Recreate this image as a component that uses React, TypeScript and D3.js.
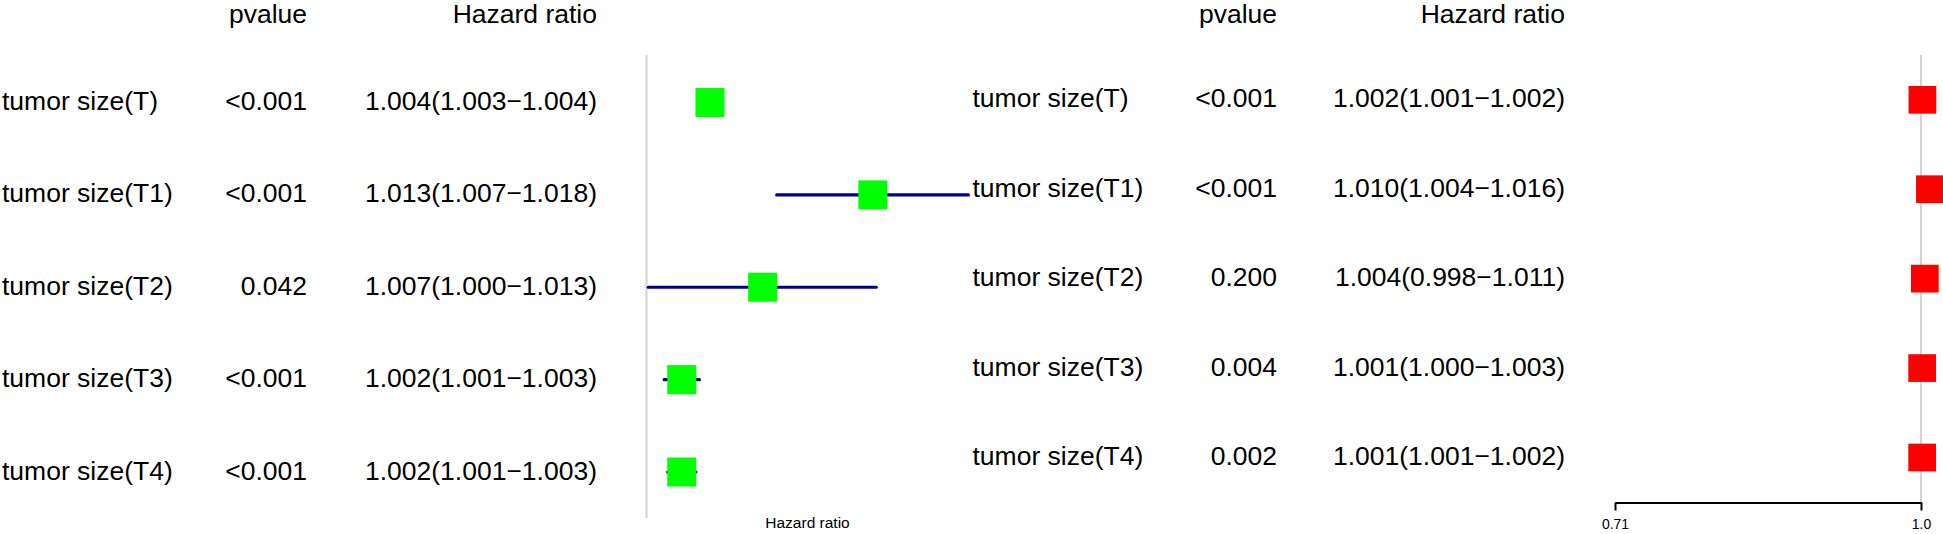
import React, { useEffect, useRef } from 'react';
import * as d3 from 'd3';

// Rows (same for both panels)
const labels = ['tumor size(T)', 'tumor size(T1)', 'tumor size(T2)', 'tumor size(T3)', 'tumor size(T4)'];

// Left forest plot
const leftPvalues = ['<0.001', '<0.001', '0.042', '<0.001', '<0.001'];
const leftHrText = [
  '1.004(1.003\u22121.004)',
  '1.013(1.007\u22121.018)',
  '1.007(1.000\u22121.013)',
  '1.002(1.001\u22121.003)',
  '1.002(1.001\u22121.003)',
];
const leftHr = [1.0036, 1.0129, 1.0066, 1.002, 1.002];
const leftLower = [1.0031, 1.0074, 1.0001, 1.001, 1.0012];
const leftUpper = [1.0041, 1.0184, 1.0131, 1.003, 1.0028];

// Right forest plot
const rightPvalues = ['<0.001', '<0.001', '0.200', '0.004', '0.002'];
const rightHrText = [
  '1.002(1.001\u22121.002)',
  '1.010(1.004\u22121.016)',
  '1.004(0.998\u22121.011)',
  '1.001(1.000\u22121.003)',
  '1.001(1.001\u22121.002)',
];
const rightHr = [1.0016, 1.01, 1.0043, 1.0013, 1.0013];
const rightLower = [1.0012, 1.004, 0.998, 1.0004, 1.0006];
const rightUpper = [1.002, 1.016, 1.011, 1.0027, 1.002];
const rightTicks = [0.71, 1.0];
const rightTickLabels = ['0.71', '1.0'];

const W = 1943;
const H = 534;
const FONT = '"Liberation Sans", Arial, Helvetica, sans-serif';
const TEXT_SIZE = 26.5;

type Panel = {
  x0: number;
  pvalRight: number;
  hrRight: number;
  rowTop: number;
  rowBottom: number;
  x: d3.ScaleLogarithmic<number, number>;
  lineTop: number;
  lineBottom: number;
  box: number;
  color: string;
  pvalues: string[];
  hrText: string[];
  hr: number[];
  lower: number[];
  upper: number[];
};

function drawPanel(svg: d3.Selection<SVGSVGElement, unknown, null, undefined>, p: Panel) {
  const y = d3.scalePoint<string>().domain(labels).range([p.rowTop, p.rowBottom]);
  const g = svg.append('g').style('font-family', FONT).style('font-size', `${TEXT_SIZE}px`);

  // Header
  g.append('text').attr('x', p.pvalRight).attr('y', 23).attr('text-anchor', 'end').text('pvalue');
  g.append('text').attr('x', p.hrRight).attr('y', 23).attr('text-anchor', 'end').text('Hazard ratio');

  const rows = labels.map((l, i) => ({
    label: l,
    pv: p.pvalues[i],
    txt: p.hrText[i],
    hr: p.hr[i],
    lo: p.lower[i],
    hi: p.upper[i],
  }));

  // Table columns
  g.selectAll(null)
    .data(rows)
    .enter()
    .append('text')
    .attr('x', p.x0)
    .attr('y', d => (y(d.label) as number) + 7.5)
    .text(d => d.label);

  g.selectAll(null)
    .data(rows)
    .enter()
    .append('text')
    .attr('x', p.pvalRight)
    .attr('y', d => (y(d.label) as number) + 7.5)
    .attr('text-anchor', 'end')
    .text(d => d.pv);

  g.selectAll(null)
    .data(rows)
    .enter()
    .append('text')
    .attr('x', p.hrRight)
    .attr('y', d => (y(d.label) as number) + 7.5)
    .attr('text-anchor', 'end')
    .text(d => d.txt);

  // Reference line at 1
  svg
    .append('line')
    .attr('x1', p.x(1))
    .attr('x2', p.x(1))
    .attr('y1', p.lineTop)
    .attr('y2', p.lineBottom)
    .attr('stroke', '#d3d3d3')
    .attr('stroke-width', 2);

  // CI lines
  svg
    .selectAll(null)
    .data(rows)
    .enter()
    .append('line')
    .attr('x1', d => p.x(d.lo))
    .attr('x2', d => p.x(d.hi))
    .attr('y1', d => y(d.label) as number)
    .attr('y2', d => y(d.label) as number)
    .attr('stroke', '#00008b')
    .attr('stroke-width', 3.2)
    .attr('stroke-linecap', 'round');

  // Boxes
  svg
    .selectAll(null)
    .data(rows)
    .enter()
    .append('rect')
    .attr('x', d => p.x(d.hr) - p.box / 2)
    .attr('y', d => (y(d.label) as number) - p.box / 2)
    .attr('width', p.box)
    .attr('height', p.box)
    .attr('fill', p.color);

  return y;
}

export default function App() {
  const ref = useRef<SVGSVGElement>(null);

  useEffect(() => {
    const svg = d3.select(ref.current as SVGSVGElement);
    svg.selectAll('*').remove();

    const xLeft = d3.scaleLog().domain([1, 1.0184]).range([646.5, 968.5]);
    drawPanel(svg, {
      x0: 2,
      pvalRight: 307,
      hrRight: 597,
      rowTop: 102.5,
      rowBottom: 472,
      x: xLeft,
      lineTop: 55,
      lineBottom: 518,
      box: 29,
      color: '#00ff00',
      pvalues: leftPvalues,
      hrText: leftHrText,
      hr: leftHr,
      lower: leftLower,
      upper: leftUpper,
    });

    // x label of the left plot
    svg
      .append('text')
      .attr('x', (xLeft.range()[0] + xLeft.range()[1]) / 2)
      .attr('y', 528)
      .attr('text-anchor', 'middle')
      .style('font-family', FONT)
      .style('font-size', '15.5px')
      .text('Hazard ratio');

    const xRight = d3.scaleLog().domain([0.71, 1.0]).range([1615, 1921]);
    drawPanel(svg, {
      x0: 972.5,
      pvalRight: 1277,
      hrRight: 1565,
      rowTop: 99.8,
      rowBottom: 457.5,
      x: xRight,
      lineTop: 55,
      lineBottom: 502.5,
      box: 27.7,
      color: '#ff0000',
      pvalues: rightPvalues,
      hrText: rightHrText,
      hr: rightHr,
      lower: rightLower,
      upper: rightUpper,
    });

    // x axis of the right plot
    const axis = d3
      .axisBottom(xRight)
      .tickValues(rightTicks)
      .tickFormat((d, i) => rightTickLabels[i])
      .tickSizeInner(8)
      .tickSizeOuter(0)
      .tickPadding(9);

    const ax = svg.append('g').attr('transform', 'translate(0,502.5)').call(axis);
    ax.select('.domain').attr('stroke', '#000').attr('stroke-width', 2);
    ax.selectAll('.tick line').attr('stroke', '#000').attr('stroke-width', 2);
    ax.selectAll('.tick text')
      .style('font-family', FONT)
      .style('font-size', '14px')
      .attr('fill', '#000');
  }, []);

  return (
    <svg
      ref={ref}
      width={W}
      height={H}
      style={{ position: 'absolute', left: 0, top: 0, display: 'block', background: '#fff' }}
    />
  );
}
